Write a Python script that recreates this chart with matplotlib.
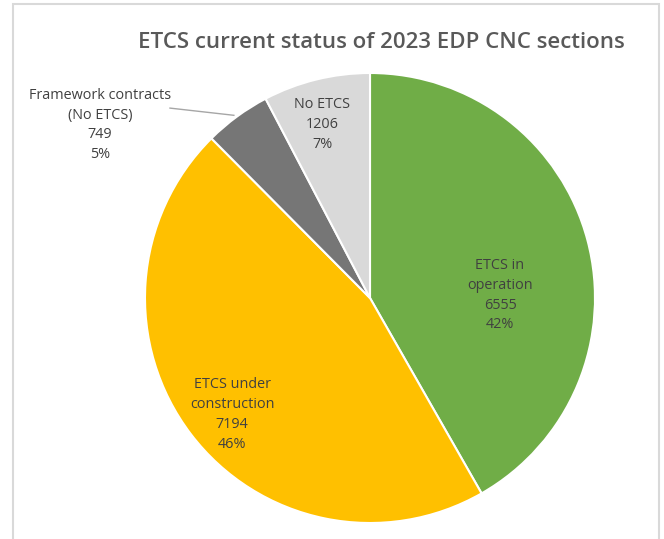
import matplotlib.pyplot as plt
from matplotlib.patches import Rectangle

# EDP CNC sections by ETCS status (section counts)
labels = ["ETCS in\noperation", "ETCS under\nconstruction",
          "Framework contracts\n(No ETCS)", "No ETCS"]
values = [6555, 7194, 749, 1206]
pct_labels = ["42%", "46%", "5%", "7%"]
colors = ["#70AD47", "#FFC000", "#767676", "#D9D9D9"]

# label anchor points in pie units (radius = 1)
label_pos = [(0.578, 0.013), (-0.613, -0.516), (-1.2, 0.769), (-0.213, 0.773)]

plt.rcParams["font.family"] = ["Open Sans", "DejaVu Sans"]

fig = plt.figure(figsize=(6.64, 5.39), dpi=100)
fig.patches.append(Rectangle((13 / 664, -0.05), (659 - 13) / 664, 1.05 - 4 / 539,
                             transform=fig.transFigure, fill=False,
                             edgecolor="#D9D9D9", linewidth=1.5))

# pie centre (370, 298) px, radius 225 px
ax = fig.add_axes([145 / 664, 1 - 523 / 539, 450 / 664, 450 / 539])
ax.pie(values, colors=colors, startangle=90, counterclock=False,
       wedgeprops=dict(edgecolor="white", linewidth=1.5))
ax.set_xlim(-1, 1)
ax.set_ylim(-1, 1)
ax.set_aspect("equal")

for name, v, p, (x, y) in zip(labels, values, pct_labels, label_pos):
    ax.text(x, y, f"{name}\n{v}\n{p}", ha="center", va="center",
            fontsize=10.4, color="#404040", linespacing=1.45, clip_on=False)

# leader line for the thin framework slice
ax.plot([-0.889, -0.605], [0.844, 0.812], color="#A6A6A6", linewidth=1, clip_on=False)

fig.text(381 / 664, 1 - 42 / 539, "ETCS current status of 2023 EDP CNC sections",
         ha="center", va="center", fontsize=16, fontweight="semibold", color="#595959")

fig.savefig("out.png", dpi=100)
